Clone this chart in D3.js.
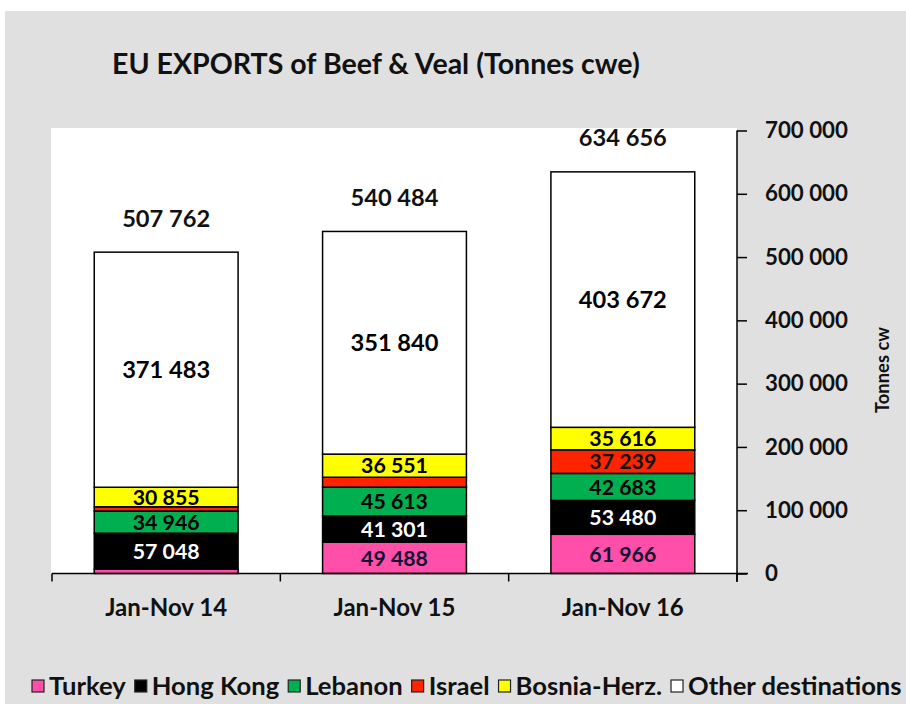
<!DOCTYPE html>
<html><head><meta charset="utf-8">
<script src="https://cdn.jsdelivr.net/npm/d3@7"></script>
<style>body{margin:0;background:#fff}text{font-family:Lato,"Open Sans",sans-serif;font-weight:bold}</style>
</head><body>
<svg id="c" width="906" height="704"></svg>
<script>
const categories = ["Jan-Nov 14", "Jan-Nov 15", "Jan-Nov 16"];
const seriesNames = ["Turkey", "Hong Kong", "Lebanon", "Israel", "Bosnia-Herz.", "Other destinations"];
const turkey = [6700, 49488, 61966];
const hongKong = [57048, 41301, 53480];
const lebanon = [34946, 45613, 42683];
const israel = [6730, 15691, 37239];
const bosnia = [30855, 36551, 35616];
const other = [371483, 351840, 403672];
const totals = [507762, 540484, 634656];
const yTicks = [0, 100000, 200000, 300000, 400000, 500000, 600000, 700000];
const colors = ["#ff4fa8", "#000000", "#00b050", "#ff2400", "#ffff00", "#ffffff"];
const labelColors = ["#111133", "#ffffff", "#000000", "#111111", "#000000", "#000000"];

const fmt = v => d3.format(",")(v).replace(/,/g, " ");
const svg = d3.select("#c");
svg.append("rect").attr("x", 5).attr("y", 11).attr("width", 901).attr("height", 693).attr("fill", "#e0e0e0");
svg.append("rect").attr("x", 51).attr("y", 128).attr("width", 686).attr("height", 445.5).attr("fill", "#fff");

function fit(sel, target) {
  const w = sel.node().getComputedTextLength();
  const fs = parseFloat(sel.attr("font-size"));
  return fs * target / w;
}

// Title
const title = svg.append("text").attr("x", 112).attr("y", 74).attr("font-size", 26)
  .text("EU EXPORTS of Beef & Veal (Tonnes cwe)").attr("fill", "#111");
title.attr("font-size", fit(title, 528));

const x = d3.scaleBand().domain(categories).range([52, 737]).padding(0);
const y = d3.scaleLinear().domain([0, 700000]).range([573.5, 130.5]);
const barW = x.bandwidth() * 0.63;

const rows = categories.map((c, i) => ({cat: c, Turkey: turkey[i], "Hong Kong": hongKong[i], Lebanon: lebanon[i], Israel: israel[i], "Bosnia-Herz.": bosnia[i], "Other destinations": other[i]}));
const stacked = d3.stack().keys(seriesNames)(rows);

// measurement for label fonts
const probeBig = svg.append("text").attr("font-size", 24).text("507 762");
const bigFs = fit(probeBig, 88); probeBig.remove();
const probeSmall = svg.append("text").attr("font-size", 24).text("57 048");
const smallFs = fit(probeSmall, 67); probeSmall.remove();

stacked.forEach((layer, si) => {
  const g = svg.append("g");
  g.selectAll("rect").data(layer).join("rect")
    .attr("x", d => x(d.data.cat) + (x.bandwidth() - barW) / 2)
    .attr("y", d => y(d[1]))
    .attr("width", barW)
    .attr("height", d => y(d[0]) - y(d[1]))
    .attr("fill", colors[si]).attr("stroke", "#000").attr("stroke-width", 1.5);
  g.selectAll("text").data(layer.filter(d => d[1] - d[0] > 20000)).join("text")
    .attr("x", d => x(d.data.cat) + x.bandwidth() / 2)
    .attr("y", d => (y(d[0]) + y(d[1])) / 2)
    .attr("dy", "0.36em").attr("text-anchor", "middle")
    .attr("font-size", si === 5 ? bigFs : smallFs)
    .attr("fill", labelColors[si])
    .text(d => fmt(d[1] - d[0]));
});

// totals
svg.append("g").selectAll("text").data(categories).join("text")
  .attr("x", c => x(c) + x.bandwidth() / 2)
  .attr("y", (c, i) => y(totals[i]) - 34)
  .attr("dy", "0.36em").attr("text-anchor", "middle")
  .attr("font-size", bigFs).attr("fill", "#111")
  .text((c, i) => fmt(totals[i]));

// x axis
const xAxisG = svg.append("g").attr("transform", "translate(0,573.5)");
xAxisG.append("line").attr("x1", 52).attr("x2", 748).attr("stroke", "#000").attr("stroke-width", 1.5);
const xTickPos = categories.map(c => x(c)).concat([737]);
xAxisG.selectAll("line.t").data(xTickPos).join("line").attr("class", "t")
  .attr("x1", d => d).attr("x2", d => d).attr("y1", 0).attr("y2", 8)
  .attr("stroke", "#000").attr("stroke-width", 1.5);
const probeCat = svg.append("text").attr("font-size", 20).text(categories[0]);
const catFs = fit(probeCat, 122); probeCat.remove();
xAxisG.selectAll("text").data(categories).join("text")
  .attr("x", c => x(c) + x.bandwidth() / 2).attr("y", 34).attr("dy", "0.36em")
  .attr("text-anchor", "middle").attr("font-size", catFs).attr("fill", "#111").text(c => c);

// y axis (right)
const yAxis = d3.axisRight(y).tickValues(yTicks).tickSize(10).tickPadding(18).tickFormat(fmt);
const yG = svg.append("g").attr("transform", "translate(737,0)").call(yAxis);
yG.select(".domain").remove();
yG.append("line").attr("y1", 130.5).attr("y2", 582).attr("stroke", "#000").attr("stroke-width", 1.5);
yG.selectAll(".tick line").attr("stroke", "#000").attr("stroke-width", 1.5);
const probeY = svg.append("text").attr("font-size", 20).text("700 000");
const yFs = fit(probeY, 83); probeY.remove();
yG.selectAll(".tick text").attr("font-size", yFs).attr("font-family", "Lato").attr("font-weight", "bold").attr("fill", "#111");

const yTitle = svg.append("text").attr("font-size", 15).attr("text-anchor", "middle")
  .attr("transform", "translate(882,370) rotate(-90)").attr("dy", "0.36em").attr("fill", "#111").text("Tonnes cw");
yTitle.attr("font-size", fit(yTitle, 86));

// legend
const legend = svg.append("g");
const legFs0 = 20;
const tmp = seriesNames.map(n => { const t = svg.append("text").attr("font-size", legFs0).text(n); const w = t.node().getComputedTextLength(); t.remove(); return w; });
const sumW = d3.sum(tmp);
const legFs = legFs0 * (870 - 6 * 17 - 5 * 9) / sumW;
let lx = 32;
seriesNames.forEach((n, i) => {
  legend.append("rect").attr("x", lx).attr("y", 680).attr("width", 12).attr("height", 12)
    .attr("fill", colors[i]).attr("stroke", "#222").attr("stroke-width", 1.2);
  const t = legend.append("text").attr("x", lx + 17).attr("y", 686).attr("dy", "0.36em")
    .attr("font-size", legFs).attr("fill", "#111").text(n);
  lx += 17 + t.node().getComputedTextLength() + 9;
});
</script>
</body></html>
